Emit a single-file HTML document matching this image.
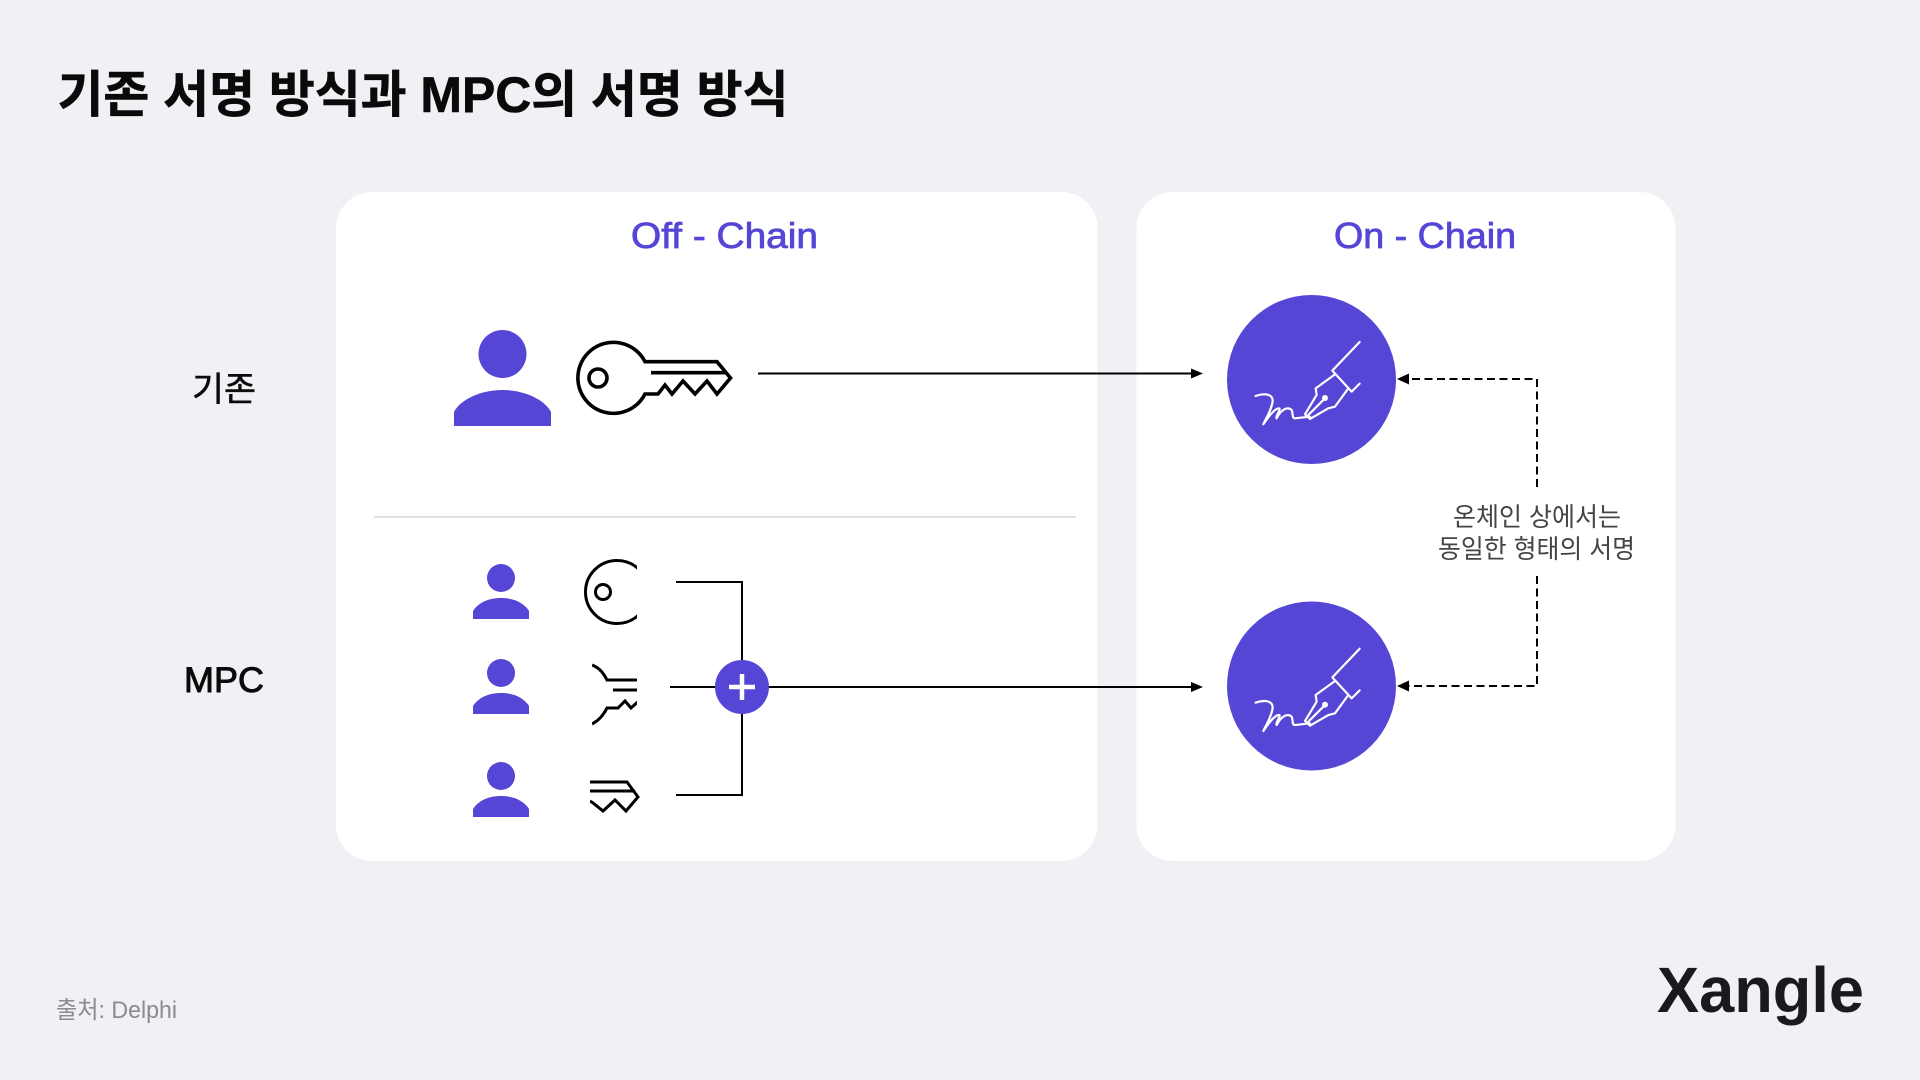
<!DOCTYPE html>
<html lang="ko"><head><meta charset="utf-8"><title>기존 서명 방식과 MPC의 서명 방식</title>
<style>html,body{margin:0;padding:0;background:#f0f1f5}svg{display:block}
text{font-family:"Liberation Sans","Noto Sans CJK KR",sans-serif}</style></head>
<body>
<svg xmlns="http://www.w3.org/2000/svg" width="1920" height="1080" viewBox="0 0 1920 1080">
<defs>
<clipPath id="c1"><rect x="580" y="550" width="57" height="90"/></clipPath>
<clipPath id="c2"><rect x="592" y="650" width="45" height="90"/></clipPath>
<clipPath id="c3"><rect x="590" y="770" width="60" height="50"/></clipPath>
<g id="pen" fill="none" stroke="#fff" stroke-width="6.5" stroke-linejoin="round" stroke-linecap="round">
<path d="M449 186L367 272L425 335L449 311"/>
<path d="M375 283L317 325L320 345L285 403L300 417L355 385L375 380L415 325"/>
<path d="M345 355L295 405"/>
<circle cx="345" cy="354" r="9" fill="#fff" stroke="none"/>
<path d="M137 348C160 340 185 340 188 360C188 385 165 420 160 433C175 410 195 385 207 385C215 385 195 410 200 415C215 385 235 380 245 390C250 400 245 415 255 415L300 410"/>
</g>
<g id="sp" fill="#5546d6"><circle cx="501" cy="0" r="14"/><path d="M473 41V33C478 25 488 20 501 20C514 20 524 25 529 33V41Z"/></g>
</defs>
<rect width="1920" height="1080" fill="#f0f1f5"/>
<rect x="336" y="192" width="761.5" height="669" rx="36" fill="#fff"/>
<rect x="1136.5" y="192" width="539" height="669" rx="36" fill="#fff"/>

<text x="57.5" y="112" font-size="50" font-weight="700" fill="#0a0a0a" stroke="#0a0a0a" stroke-width=".6" textLength="731" lengthAdjust="spacingAndGlyphs">기존 서명 방식과 MPC의 서명 방식</text>
<text x="631" y="248" font-size="36" fill="#5546d6" stroke="#5546d6" stroke-width=".8" textLength="187" lengthAdjust="spacingAndGlyphs">Off - Chain</text>
<text x="1334" y="248" font-size="36" fill="#5546d6" stroke="#5546d6" stroke-width=".8" textLength="182" lengthAdjust="spacingAndGlyphs">On - Chain</text>
<text x="192" y="401" font-size="34" fill="#0a0a0a" stroke="#0a0a0a" stroke-width=".5" textLength="64" lengthAdjust="spacingAndGlyphs">기존</text>
<text x="184" y="692" font-size="35" fill="#0a0a0a" stroke="#0a0a0a" stroke-width=".9" textLength="80" lengthAdjust="spacingAndGlyphs">MPC</text>
<text x="56" y="1018" font-size="24" fill="#8a8a8f" textLength="121" lengthAdjust="spacingAndGlyphs">출처: Delphi</text>
<text x="1453" y="526" font-size="26" fill="#444" textLength="168" lengthAdjust="spacingAndGlyphs">온체인 상에서는</text>
<text x="1438" y="558" font-size="26" fill="#444" textLength="197" lengthAdjust="spacingAndGlyphs">동일한 형태의 서명</text>
<text x="1657" y="1012" font-size="64" font-weight="700" fill="#1a1a1c" textLength="207" lengthAdjust="spacingAndGlyphs">Xangle</text>

<line x1="374" y1="517" x2="1076" y2="517" stroke="#cfcfcf" stroke-width="1.3"/>

<!-- big person -->
<circle cx="502.5" cy="354" r="24" fill="#5546d6"/>
<path d="M454 426V412C460 400 480 390 502.5 390C525 390 545 400 551 412V426Z" fill="#5546d6"/>
<!-- key -->
<g fill="none" stroke="#000" stroke-width="3.6">
<path d="M645 361.7H717L730.5 378L717 394L707 381L695 394L683 381L672 394L665 385L658 394H645A35.5 35.5 0 1 1 645 361.7Z"/>
<circle cx="598" cy="378" r="9"/>
<path d="M651 372.7H725"/>
</g>
<!-- small persons -->
<use href="#sp" y="578"/><use href="#sp" y="673"/><use href="#sp" y="776"/>
<!-- key shards -->
<g fill="none" stroke="#000" stroke-width="3">
<g clip-path="url(#c1)"><circle cx="617" cy="592" r="31.5"/><circle cx="603" cy="592" r="7.5"/></g>
<g clip-path="url(#c2)"><path d="M592 665C600 668 604 674 607 680H640"/><path d="M613 690H640"/><path d="M592 724C600 720 604 714 607 708H618L625 701L631 708L640 700"/></g>
<g clip-path="url(#c3)"><path d="M590 782H627L638 797L626 811L615 800L603 811L593 803L590 801"/><path d="M590 791H635"/></g>
</g>
<!-- connectors -->
<g fill="none" stroke="#000" stroke-width="2">
<path d="M676 582H742V795H676"/>
<path d="M670 687H1192"/>
<path d="M758 373.5H1192"/>
</g>
<path d="M1203 373.5L1191 368.5V378.5Z" fill="#000"/>
<path d="M1203 687L1191 682V692Z" fill="#000"/>
<circle cx="742" cy="687" r="27" fill="#5546d6"/>
<path d="M729 687H755M742 674V700" stroke="#fff" stroke-width="4.5" fill="none"/>
<!-- signature circles -->
<circle cx="1311.5" cy="379.5" r="84.5" fill="#5546d6"/>
<circle cx="1311.5" cy="686" r="84.5" fill="#5546d6"/>
<use href="#pen" transform="translate(1210 280) scale(.3333)"/>
<use href="#pen" transform="translate(1210 586.7) scale(.3333)"/>
<!-- dashed -->
<g fill="none" stroke="#000" stroke-width="2" stroke-dasharray="8 4.5">
<path d="M1537 487V379H1408"/>
<path d="M1537 576V686H1408"/>
</g>
<path d="M1397 379L1409 373.5V384.5Z" fill="#000"/>
<path d="M1397 686L1409 680.5V691.5Z" fill="#000"/>
</svg>
</body></html>
